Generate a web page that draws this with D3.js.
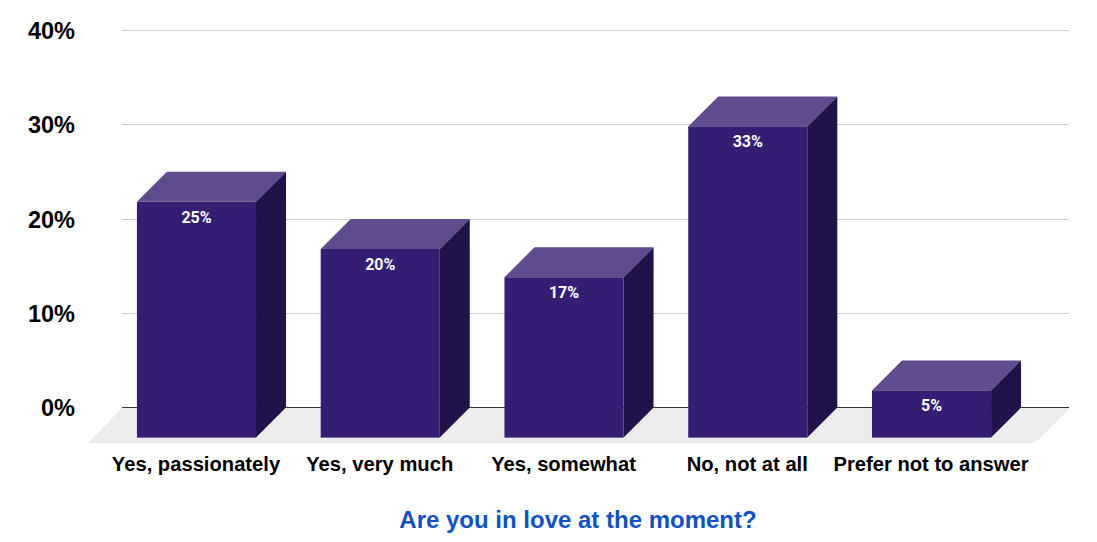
<!DOCTYPE html>
<html>
<head>
    <meta charset="utf-8">
    <title>Are you in love at the moment?</title>
    <script src="https://d3js.org/d3.v7.min.js"></script>
    <style>
        html, body { margin: 0; padding: 0; background: #fff; }
        svg { display: block; }
        .ticks text { font-family: "Liberation Sans", Arial, sans-serif; font-weight: bold; fill: #000; }
    </style>
</head>
<body>
<div id="chart"></div>
<script type="text/javascript">
    const categories = ["Yes, passionately", "Yes, very much", "Yes, somewhat", "No, not at all", "Prefer not to answer"];
    const shares = [25, 20, 17, 33, 5];
    const yTicks = [0, 10, 20, 30, 40];
    const axisTitle = "Are you in love at the moment?";

    const width = 1097, height = 542;
    const depth = 30;   // offset of the back of each box

    const svg = d3.select("#chart").append("svg")
        .attr("width", width)
        .attr("height", height);

    // y scale is for the back wall, the front faces sit depth px lower
    const y = d3.scaleLinear().domain([0, 40]).range([407.6, 30.4]);
    const x = d3.scaleBand().domain(categories)
        .range([104.6, 1023.4])
        .paddingInner(0.352)
        .paddingOuter(0.176);

    // floor
    svg.append("polygon")
        .attr("points", [[122, 408], [1070, 408], [1035, 443], [88, 443]].join(" "))
        .attr("fill", "#ececec");

    // gridlines
    svg.append("g").selectAll("line")
        .data(yTicks)
        .enter()
        .append("line")
        .attr("x1", 122)
        .attr("x2", 1069)
        .attr("y1", d => Math.floor(y(d)) + 0.5)
        .attr("y2", d => Math.floor(y(d)) + 0.5)
        .attr("stroke", d => d === 0 ? "#333333" : "#cccccc")
        .attr("stroke-width", 1);

    // y axis
    const yAxis = d3.axisLeft(y)
        .tickValues(yTicks)
        .tickFormat(d => d + "%")
        .tickSize(0)
        .tickPadding(0);
    const yG = svg.append("g")
        .attr("class", "ticks")
        .attr("transform", "translate(75,0.5)")
        .call(yAxis);
    yG.select(".domain").remove();
    yG.selectAll("text").attr("font-size", 23.5);

    // x axis
    const xAxis = d3.axisBottom(x).tickSize(0).tickPadding(0);
    const xG = svg.append("g")
        .attr("class", "ticks")
        .attr("transform", "translate(-0.5,457)")
        .call(xAxis);
    xG.select(".domain").remove();
    xG.selectAll("text").attr("font-size", 20.2);

    // bars
    const bars = svg.append("g").selectAll("g")
        .data(categories.map((c, i) => ({name: c, value: shares[i]})))
        .enter()
        .append("g");

    const barLeft = d => x(d.name);
    const barRight = d => x(d.name) + x.bandwidth();
    const barTop = d => y(d.value) + depth;
    const barBase = y(0) + depth;

    bars.append("polygon")
        .attr("fill", "#5f4b8e")
        .attr("points", d => [[barLeft(d), barTop(d)], [barLeft(d) + depth, barTop(d) - depth], [barRight(d) + depth, barTop(d) - depth], [barRight(d), barTop(d)]].join(" "));

    bars.append("polygon")
        .attr("fill", "#211349")
        .attr("points", d => [[barRight(d), barTop(d)], [barRight(d) + depth, barTop(d) - depth], [barRight(d) + depth, barBase - depth], [barRight(d), barBase]].join(" "));

    bars.append("rect")
        .attr("fill", "#341d73")
        .attr("x", barLeft)
        .attr("y", barTop)
        .attr("width", x.bandwidth())
        .attr("height", d => barBase - barTop(d));

    bars.append("text")
        .attr("x", d => barLeft(d) + x.bandwidth() / 2)
        .attr("y", d => barTop(d) + 20.7)
        .attr("text-anchor", "middle")
        .attr("font-family", "Roboto, sans-serif")
        .attr("font-weight", "bold")
        .attr("font-size", 16)
        .attr("fill", "#ffffff")
        .text(d => d.value + "%");

    // axis title
    svg.append("text")
        .attr("x", 578)
        .attr("y", 528)
        .attr("text-anchor", "middle")
        .attr("font-family", "'Liberation Sans', Arial, sans-serif")
        .attr("font-weight", "bold")
        .attr("font-size", 24)
        .attr("fill", "#0f52c4")
        .text(axisTitle);
</script>
</body>
</html>
